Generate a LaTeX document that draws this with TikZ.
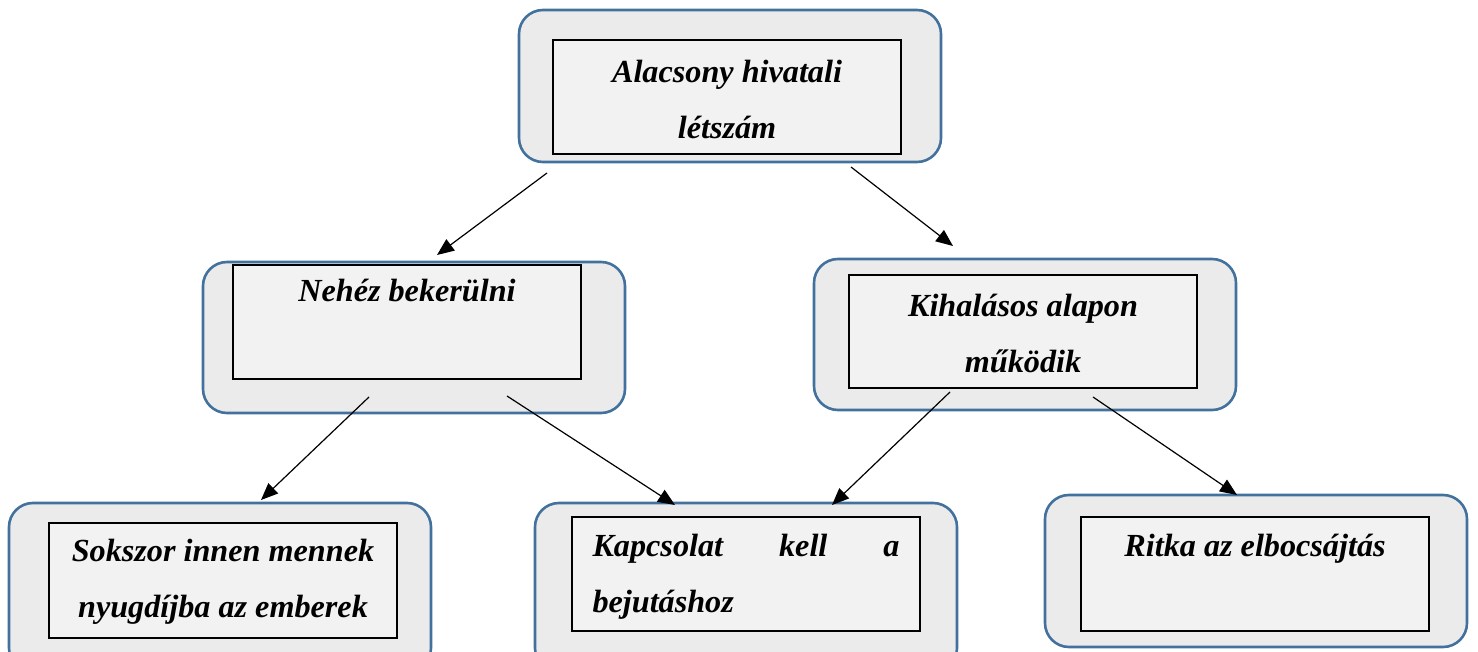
\documentclass[tikz,border=0pt]{standalone}
\usepackage{fontspec}
\setmainfont{Liberation Serif}
\usetikzlibrary{arrows.meta,fit}
\definecolor{boxblue}{RGB}{65,113,156}
\definecolor{outerfill}{RGB}{235,235,235}
\definecolor{innerfill}{RGB}{242,242,242}
\begin{document}
\begin{tikzpicture}[x=0.5pt,y=-0.5pt,
  outerbox/.style={draw=boxblue,line width=1.3pt,fill=outerfill,rounded corners=12pt,inner sep=0pt},
  innerbox/.style={draw=black,line width=0.7pt,fill=innerfill,inner sep=0pt},
  lbl/.style={font=\fontsize{16.1}{28}\selectfont\bfseries\itshape,align=center,inner sep=0pt},
  arr/.style={-{Triangle[length=8.5pt,width=7pt]},line width=0.6pt}]
\useasboundingbox (0,0) rectangle (1478,652);
% top
\node[outerbox,fit={(519,10)(941,162)}] (topO) {};
\node[innerbox,fit={(553,40)(901,154)}] (topI) {};
\node[lbl] (topT) at (727,99) {Alacsony hivatali\\létszám};
% mid left
\node[outerbox,fit={(203,262)(625,413)}] (mlO) {};
\node[innerbox,fit={(233,265)(581,379)}] (mlI) {};
\node[lbl,anchor=base] (mlT) at (407,302) {Nehéz bekerülni};
% mid right
\node[outerbox,fit={(814,259)(1236,410)}] (mrO) {};
\node[innerbox,fit={(849,275)(1197,388)}] (mrI) {};
\node[lbl] (mrT) at (1023,334) {Kihalásos alapon\\működik};
% bottom left
\node[outerbox,fit={(9,503)(431,672)}] (blO) {};
\node[innerbox,fit={(49,523)(397,638)}] (blI) {};
\node[lbl] (blT) at (223,582) {Sokszor innen mennek\\nyugdíjba az emberek};
% bottom mid
\node[outerbox,fit={(535,503)(957,672)}] (bmO) {};
\node[innerbox,fit={(572,517)(920,631)}] (bmI) {};
\node[lbl,align=left] (bmT) at (746,577) {\makebox[153.5pt][s]{Kapcsolat\hfill kell\hfill a}\\bejutáshoz};
% bottom right
\node[outerbox,fit={(1045,495)(1467,647)}] (brO) {};
\node[innerbox,fit={(1081,517)(1429,631)}] (brI) {};
\node[lbl,anchor=base] (brT) at (1255,556) {Ritka az elbocsájtás};
% arrow coordinates
\coordinate (a1s) at (547,173); \coordinate (a1e) at (437,255);
\coordinate (a2s) at (851,167); \coordinate (a2e) at (953,246);
\coordinate (a3s) at (369,397); \coordinate (a3e) at (261,500);
\coordinate (a4s) at (507,396); \coordinate (a4e) at (675,505);
\coordinate (a5s) at (950,392); \coordinate (a5e) at (832,505);
\coordinate (a6s) at (1093,397); \coordinate (a6e) at (1237,495);
\draw[arr] (a1s) -- (a1e);
\draw[arr] (a2s) -- (a2e);
\draw[arr] (a3s) -- (a3e);
\draw[arr] (a4s) -- (a4e);
\draw[arr] (a5s) -- (a5e);
\draw[arr] (a6s) -- (a6e);
\end{tikzpicture}
\end{document}
